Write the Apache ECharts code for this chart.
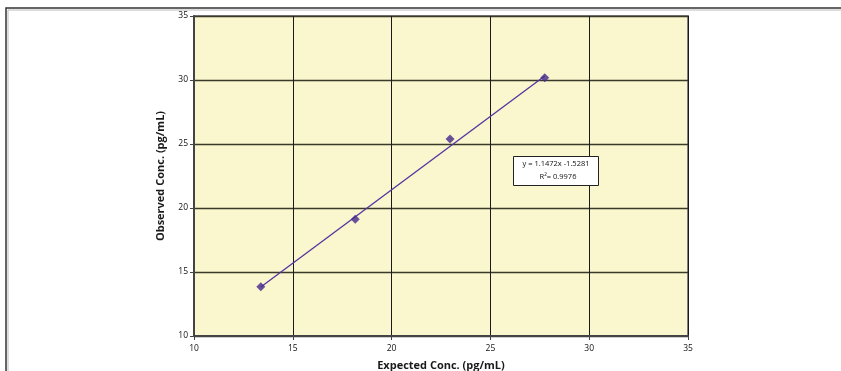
<!DOCTYPE html>
<html>
<head>
<meta charset="utf-8">
<script src="https://cdn.jsdelivr.net/npm/echarts@6/dist/echarts.min.js"></script>
<style>html,body{margin:0;padding:0;background:#fff;}#c{width:841px;height:371px;}</style>
</head>
<body>
<div id="c"></div>
<script>
const expected = [13.38, 18.16, 22.96, 27.75];
const observed = [13.85, 19.12, 25.39, 30.18];
const slope = 1.1472;
const intercept = -1.5281;
const rSquared = 0.9976;
const xTitle = 'Expected Conc. (pg/mL)';
const yTitle = 'Observed Conc. (pg/mL)';

const pts = expected.map((x, i) => [x, observed[i]]);
const xMin = Math.min(...expected), xMax = Math.max(...expected);
const trend = [[xMin, slope * xMin + intercept], [xMax, slope * xMax + intercept]];

const chart = echarts.init(document.getElementById('c'), null, {renderer: 'canvas'});
const font = '"Open Sans", sans-serif';
chart.setOption({
  animation: false,
  backgroundColor: '#fff',
  grid: {left: 194, right: 153, top: 16, bottom: 35, outerBoundsMode: 'none', containLabel: false, show: true, backgroundColor: '#FAF6CD', borderColor: '#808080', borderWidth: 2},
  xAxis: {
    type: 'value', min: 10, max: 35, interval: 5,
    name: xTitle, nameLocation: 'middle', nameGap: 24,
    nameTextStyle: {fontFamily: font, fontWeight: 'bold', fontSize: 11, color: '#1a1a1a'},
    axisLine: {show: true, onZero: false, lineStyle: {color: '#444', width: 2}},
    axisTick: {show: true, length: 4, lineStyle: {color: '#444'}},
    axisLabel: {fontFamily: font, fontSize: 8.5, color: '#111', margin: 8},
    splitLine: {show: true, lineStyle: {color: '#1a1a1a', width: 1}}
  },
  yAxis: {
    type: 'value', min: 10, max: 35, interval: 5,
    name: yTitle, nameLocation: 'middle', nameGap: 28, nameRotate: 90,
    nameTextStyle: {fontFamily: font, fontWeight: 'bold', fontSize: 11, color: '#1a1a1a'},
    axisLine: {show: true, onZero: false, lineStyle: {color: '#444', width: 2}},
    axisTick: {show: true, length: 4, lineStyle: {color: '#444'}},
    axisLabel: {fontFamily: font, fontSize: 8.5, color: '#111', margin: 6},
    splitLine: {show: true, lineStyle: {color: '#3a3a2a', width: 1.3}}
  },
  series: [
    {type: 'line', data: trend, symbol: 'none', lineStyle: {color: '#5533A0', width: 1.3}, z: 2},
    {type: 'scatter', data: pts, symbol: 'diamond', symbolSize: [9, 9], itemStyle: {color: '#45288C'}, z: 3}
  ],
  graphic: [
    {type: 'polyline', shape: {points: [[6, 371], [6, 8], [841, 8]]}, style: {stroke: '#333', lineWidth: 1.5, fill: null}},
    {type: 'polyline', shape: {points: [[8, 371], [8, 10], [841, 10]]}, style: {stroke: '#bbb', lineWidth: 1, fill: null}},
    {type: 'rect', shape: {x: 513.5, y: 156.5, width: 85, height: 29}, style: {fill: '#fff', stroke: '#222', lineWidth: 1}, z: 10},
    {type: 'text', x: 556, y: 164, style: {text: 'y = ' + slope + 'x ' + intercept, font: '7.5px ' + font, fill: '#111', textAlign: 'center', textVerticalAlign: 'middle'}, z: 11},
    {type: 'text', x: 558, y: 177, style: {text: 'R\u00B2= ' + rSquared, font: '7.5px ' + font, fill: '#111', textAlign: 'center', textVerticalAlign: 'middle'}, z: 11}
  ]
});
</script>
</body>
</html>
